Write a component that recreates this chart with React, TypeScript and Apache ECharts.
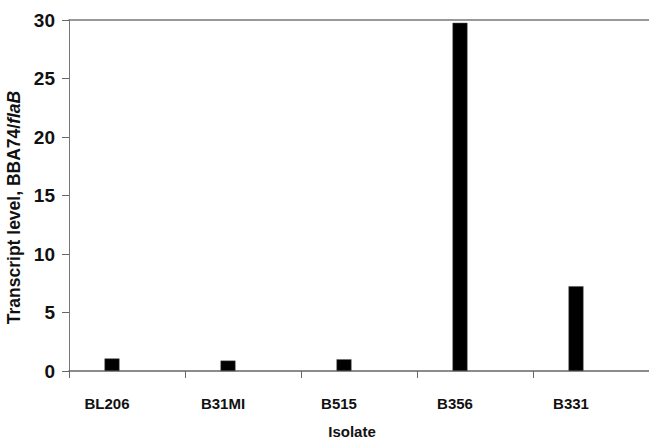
import React, { useEffect, useRef } from "react";
import * as echarts from "echarts";

const categories = ["BL206", "B31MI", "B515", "B356", "B331"];
const transcriptLevel = [1.07, 0.89, 1.0, 29.76, 7.25];
const emptySeries = [null, null, null, null, null];
const yTicks = { min: 0, max: 30, interval: 5 };

export default function App() {
  const ref = useRef<HTMLDivElement>(null);
  useEffect(() => {
    const chart = echarts.init(ref.current!, null, { renderer: "svg" });
    const font = "Arial, 'Liberation Sans', sans-serif";
    chart.setOption({
      animation: false,
      backgroundColor: "#ffffff",
      grid: { left: 69, right: 0, top: 20, bottom: 68, outerBoundsMode: "none", containLabel: false },
      xAxis: [
        {
          type: "category",
          data: categories,
          axisLine: { show: true, lineStyle: { color: "#666666", width: 1.5 } },
          axisTick: { show: true, length: 7, inside: false, lineStyle: { color: "#666666" } },
          axisLabel: {
            color: "#111111",
            fontFamily: font,
            fontWeight: "bold",
            fontSize: 15,
            margin: 25,
            padding: [0, 40, 0, 0],
          },
          name: "Isolate",
          nameLocation: "middle",
          nameGap: 53,
          nameTextStyle: {
            color: "#111111",
            fontFamily: font,
            fontWeight: "bold",
            fontSize: 15,
            padding: [0, 14, 0, 0],
          },
        },
        {
          type: "category",
          data: categories,
          position: "top",
          axisLine: { show: true, lineStyle: { color: "#777777", width: 1.5 } },
          axisTick: { show: false },
          axisLabel: { show: false },
        },
      ],
      yAxis: {
        type: "value",
        min: yTicks.min,
        max: yTicks.max,
        interval: yTicks.interval,
        axisLine: { show: true, lineStyle: { color: "#777777", width: 1 } },
        axisTick: { show: true, length: 7, lineStyle: { color: "#666666" } },
        splitLine: { show: false },
        axisLabel: {
          color: "#111111",
          fontFamily: font,
          fontWeight: "bold",
          fontSize: 19,
          margin: 14,
        },
        name: "{a|Transcript level, BBA74/}{b|flaB}",
        nameLocation: "middle",
        nameGap: 44,
        nameRotate: 90,
        nameTextStyle: {
          padding: [0, 24, 0, 0],
          rich: {
            a: { color: "#111111", fontFamily: font, fontWeight: "bold", fontSize: 17.5 },
            b: {
              color: "#111111",
              fontFamily: font,
              fontWeight: "bold",
              fontStyle: "italic",
              fontSize: 17.5,
            },
          },
        },
      },
      series: [
        {
          type: "bar",
          data: transcriptLevel,
          barWidth: 15,
          barGap: "100%",
          itemStyle: { color: "#000000", borderColor: "#555555", borderWidth: 0.5 },
        },
        {
          type: "bar",
          data: emptySeries,
          barWidth: 15,
          itemStyle: { color: "#000000" },
        },
      ],
    });
    return () => chart.dispose();
  }, []);
  return (
    <div
      ref={ref}
      style={{ position: "absolute", left: 0, top: 0, width: 649, height: 439 }}
    />
  );
}
